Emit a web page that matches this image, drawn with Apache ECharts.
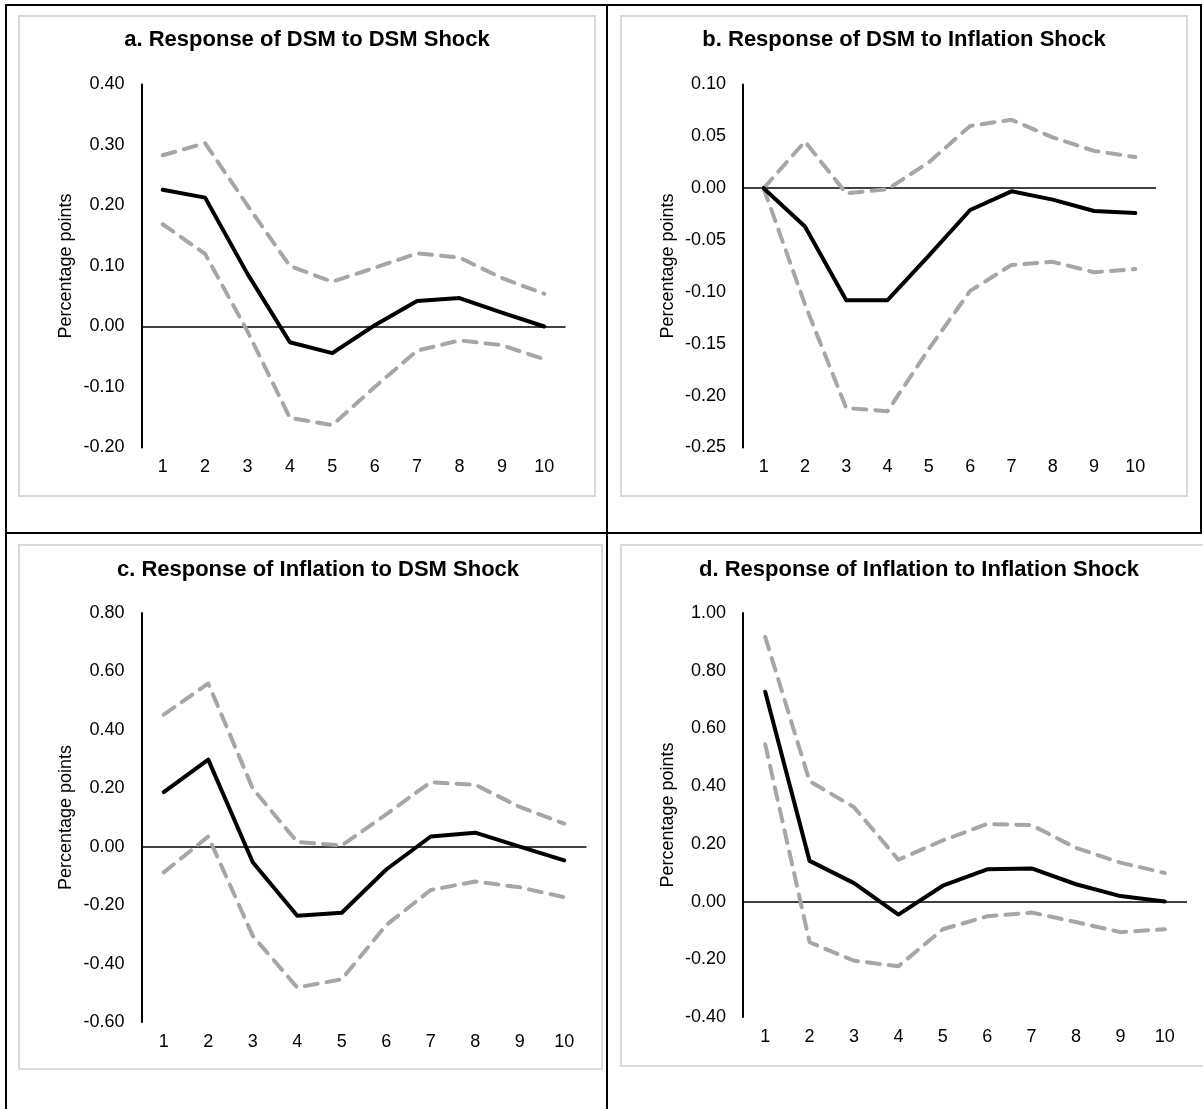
<!DOCTYPE html>
<html>
<head>
<meta charset="utf-8">
<script src="https://cdn.jsdelivr.net/npm/echarts@6/dist/echarts.min.js"></script>
<style>
  html, body { margin: 0; padding: 0; background: #ffffff; }
  #chart { width: 1203px; height: 1109px; }
</style>
</head>
<body>
<div id="chart"></div>
<script>
// Horizon (periods after the shock)
const periods = ['1', '2', '3', '4', '5', '6', '7', '8', '9', '10'];

const panelTitles = [
  'a. Response of DSM to DSM Shock',
  'b. Response of DSM to Inflation Shock',
  'c. Response of Inflation to DSM Shock',
  'd. Response of Inflation to Inflation Shock'
];

// a. DSM -> DSM
const dsmDsm      = [0.226, 0.213, 0.087, -0.026, -0.044, 0.002, 0.042, 0.047, 0.023, 0.000];
const dsmDsmUpper = [0.283, 0.303, 0.200, 0.100, 0.074, 0.097, 0.121, 0.114, 0.080, 0.054];
const dsmDsmLower = [0.169, 0.120, -0.008, -0.151, -0.163, -0.100, -0.040, -0.023, -0.031, -0.054];

// b. Inflation -> DSM
const dsmInf      = [0.000, -0.037, -0.108, -0.108, -0.065, -0.021, -0.003, -0.011, -0.022, -0.024];
const dsmInfUpper = [0.000, 0.045, -0.005, -0.001, 0.025, 0.060, 0.066, 0.049, 0.036, 0.030];
const dsmInfLower = [0.000, -0.112, -0.212, -0.215, -0.155, -0.099, -0.074, -0.071, -0.081, -0.078];

// c. DSM -> Inflation
const infDsm      = [0.187, 0.298, -0.053, -0.236, -0.226, -0.078, 0.035, 0.048, 0.000, -0.047];
const infDsmUpper = [0.452, 0.559, 0.199, 0.016, 0.004, 0.111, 0.221, 0.212, 0.136, 0.079];
const infDsmLower = [-0.088, 0.035, -0.305, -0.482, -0.454, -0.268, -0.148, -0.119, -0.139, -0.173];

// d. Inflation -> Inflation
const infInf      = [0.727, 0.141, 0.064, -0.045, 0.055, 0.112, 0.115, 0.060, 0.019, 0.000];
const infInfUpper = [0.917, 0.417, 0.327, 0.145, 0.212, 0.269, 0.265, 0.186, 0.135, 0.099];
const infInfLower = [0.545, -0.141, -0.205, -0.224, -0.096, -0.051, -0.038, -0.071, -0.106, -0.096];

// Y-axis ranges per panel: [min, max, step]
const yRanges = [
  [-0.20, 0.40, 0.10],
  [-0.25, 0.10, 0.05],
  [-0.60, 0.80, 0.20],
  [-0.40, 1.00, 0.20]
];

const responses = [dsmDsm, dsmInf, infDsm, infInf];
const uppers = [dsmDsmUpper, dsmInfUpper, infDsmUpper, infInfUpper];
const lowers = [dsmDsmLower, dsmInfLower, infDsmLower, infInfLower];

// Plot-area geometry for each panel
const grids = [
  { left: 141.5, top: 84.5, width: 424, height: 363 },
  { left: 743, top: 84.5, width: 413, height: 363 },
  { left: 141.5, top: 613, width: 445, height: 409 },
  { left: 743, top: 613, width: 444, height: 404 }
];
const titlePos = [
  { x: 307, y: 29 },
  { x: 904, y: 29 },
  { x: 318, y: 559 },
  { x: 919, y: 559 }
];

const FONT = '"Liberation Sans", Arial, sans-serif';
const fmt = v => (Math.abs(v) < 1e-9 ? '0.00' : v.toFixed(2));

const option = {
  animation: false,
  backgroundColor: '#ffffff',
  textStyle: { fontFamily: FONT },
  title: panelTitles.map((t, i) => ({
    text: t,
    left: titlePos[i].x,
    top: titlePos[i].y,
    textAlign: 'center',
    padding: 0,
    textStyle: { fontFamily: FONT, fontSize: 22, fontWeight: 'bold', color: '#000000' }
  })),
  grid: grids.map(g => ({ left: g.left, top: g.top, width: g.width, height: g.height, containLabel: false })),
  xAxis: grids.map((g, i) => ({
    type: 'category',
    gridIndex: i,
    data: periods,
    boundaryGap: true,
    axisLine: { show: false },
    axisTick: { show: false },
    splitLine: { show: false },
    axisLabel: { color: '#000000', fontSize: 18, fontFamily: FONT, margin: 11, interval: 0 }
  })),
  yAxis: yRanges.map((r, i) => ({
    type: 'value',
    gridIndex: i,
    min: r[0],
    max: r[1],
    interval: r[2],
    name: 'Percentage points',
    nameLocation: 'middle',
    nameRotate: 90,
    nameGap: 66,
    nameTextStyle: { color: '#000000', fontSize: 18, fontFamily: FONT },
    axisLine: { show: true, lineStyle: { color: '#000000', width: 2 } },
    axisTick: { show: false },
    splitLine: { show: false },
    axisLabel: { color: '#000000', fontSize: 18, fontFamily: FONT, margin: 17, formatter: fmt }
  })),
  series: []
};

for (let i = 0; i < 4; i++) {
  const dashed = {
    color: '#a6a6a6',
    width: 4,
    type: [13, 9],
    cap: 'round',
    join: 'round'
  };
  option.series.push({
    type: 'line',
    xAxisIndex: i,
    yAxisIndex: i,
    data: uppers[i],
    symbol: 'none',
    silent: true,
    lineStyle: dashed,
    z: 2,
    markLine: {
      silent: true,
      symbol: 'none',
      label: { show: false },
      lineStyle: { color: '#000000', width: 1.5, type: 'solid' },
      data: [{ yAxis: 0 }],
      z: 1
    }
  });
  option.series.push({
    type: 'line',
    xAxisIndex: i,
    yAxisIndex: i,
    data: lowers[i],
    symbol: 'none',
    silent: true,
    lineStyle: dashed,
    z: 2
  });
  option.series.push({
    type: 'line',
    xAxisIndex: i,
    yAxisIndex: i,
    data: responses[i],
    symbol: 'none',
    silent: true,
    lineStyle: { color: '#000000', width: 4, cap: 'round', join: 'round' },
    z: 3
  });
}

// Panel frames (light grey) and table rules (black)
const frame = (x, y, w, h) => ({
  type: 'rect',
  silent: true,
  z: 0,
  shape: { x: x, y: y, width: w, height: h },
  style: { fill: 'none', stroke: '#d9d9d9', lineWidth: 2 }
});
const rule = (x1, y1, x2, y2) => ({
  type: 'line',
  silent: true,
  z: 10,
  shape: { x1: x1, y1: y1, x2: x2, y2: y2 },
  style: { stroke: '#000000', lineWidth: 2 }
});

option.graphic = [
  frame(19, 16, 576, 480),
  frame(621, 16, 566, 480),
  frame(19, 545, 583, 524),
  frame(621, 545, 590, 521),
  rule(5, 5, 1201, 5),
  rule(6, 4, 6, 1109),
  rule(607, 4, 607, 1109),
  rule(1201, 4, 1201, 534),
  rule(5, 533, 1201, 533)
];

const chart = echarts.init(document.getElementById('chart'), null, { renderer: 'canvas' });
chart.setOption(option);
</script>
</body>
</html>
